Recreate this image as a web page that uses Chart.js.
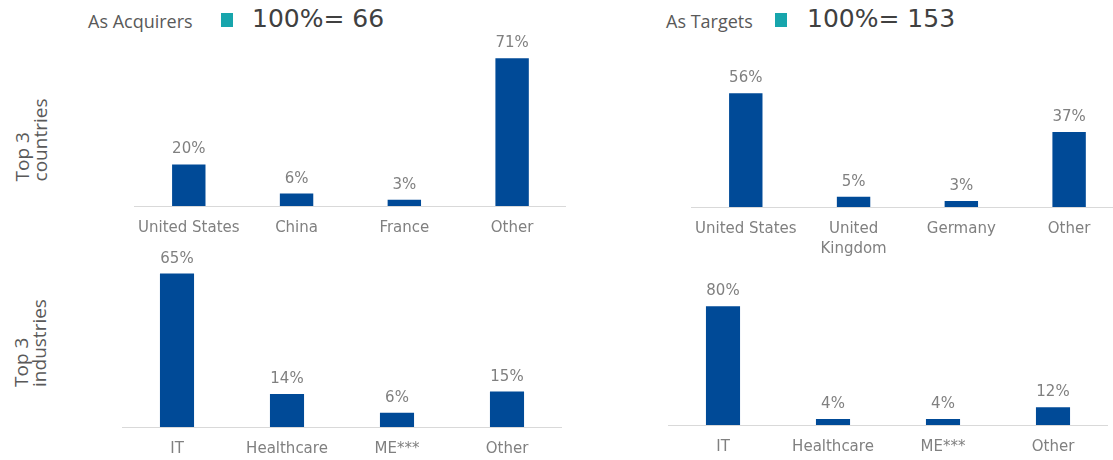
<!DOCTYPE html>
<html>
<head>
<meta charset="utf-8">
<script src="https://cdn.jsdelivr.net/npm/chart.js@4.4.1/dist/chart.umd.min.js"></script>
<style>
  body { margin: 0; width: 1113px; height: 460px; overflow: hidden; background: #fff; position: relative; }
  .abs { position: absolute; white-space: nowrap; }
  .head { font-family: "Open Sans", sans-serif; font-size: 18px; line-height: 18px; color: #595959; }
  .total { font-family: "DejaVu Sans", sans-serif; font-size: 25px; line-height: 25px; color: #404040; }
  .square { width: 12px; height: 14px; background: #17a5ac; }
  .side { font-family: "Open Sans", sans-serif; font-size: 19px; line-height: 18px; color: #595959;
          transform: translate(-50%, -50%) rotate(-90deg); text-align: left; }
  canvas { position: absolute; }
</style>
</head>
<body>

<div class="abs head" style="left:88px;top:12px">As Acquirers</div>
<div class="abs square" style="left:221px;top:13px"></div>
<div class="abs total" style="left:252px;top:6px">100%= 66</div>

<div class="abs head" style="left:666px;top:12px">As Targets</div>
<div class="abs square" style="left:775px;top:13px"></div>
<div class="abs total" style="left:807px;top:6px">100%= 153</div>

<div class="abs side" style="left:31px;top:140px">Top 3<br>countries</div>
<div class="abs side" style="left:30px;top:343px">Top 3<br>industries</div>

<canvas id="acqCountries" width="440" height="230" style="left:126px;top:26px"></canvas>
<canvas id="tgtCountries" width="440" height="230" style="left:683px;top:27px"></canvas>
<canvas id="acqIndustries" width="440" height="240" style="left:122px;top:237px"></canvas>
<canvas id="tgtIndustries" width="440" height="240" style="left:668px;top:235px"></canvas>

<script>
// data
const acqCountryLabels = ["United States", "China", "France", "Other"];
const acqCountryValues = [20, 6, 3, 71];

const tgtCountryLabels = ["United States", ["United", "Kingdom"], "Germany", "Other"];
const tgtCountryValues = [56, 5, 3, 37];

const industryLabels = ["IT", "Healthcare", "ME***", "Other"];
const acqIndustryValues = [65, 14, 6, 15];
const tgtIndustryValues = [80, 4, 4, 12];

const BAR_BLUE = "#004a97";

// percent labels above each bar
const valueLabels = {
  id: "valueLabels",
  afterDatasetsDraw(chart) {
    const ctx = chart.ctx;
    const meta = chart.getDatasetMeta(0);
    const vals = chart.data.datasets[0].data;
    ctx.save();
    ctx.font = '15px "DejaVu Sans"';
    ctx.fillStyle = "#808080";
    ctx.textAlign = "center";
    ctx.textBaseline = "alphabetic";
    meta.data.forEach((bar, i) => {
      ctx.fillText(vals[i] + "%", bar.x, bar.y - 11);
    });
    ctx.restore();
  }
};

function drawBars(id, labels, values, yMax) {
  const ctx = document.getElementById(id).getContext("2d");
  return new Chart(ctx, {
    type: "bar",
    data: {
      labels: labels,
      datasets: [{
        data: values,
        backgroundColor: BAR_BLUE,
        barPercentage: 0.31,
        categoryPercentage: 1
      }]
    },
    options: {
      responsive: false,
      animation: false,
      layout: { padding: 0 },
      plugins: { legend: { display: false }, tooltip: { enabled: false } },
      scales: {
        x: {
          grid: { display: false, drawTicks: false },
          border: { display: true, color: "#d9d9d9", width: 1 },
          ticks: {
            color: "#808080",
            font: { family: "DejaVu Sans", size: 15, lineHeight: 1.35 },
            padding: 12,
            maxRotation: 0,
            autoSkip: false
          },
          afterFit(scale) { scale.height = 50; }
        },
        y: { display: false, min: 0, max: yMax }
      }
    },
    plugins: [valueLabels]
  });
}

drawBars("acqCountries", acqCountryLabels, acqCountryValues, 86.5);
drawBars("tgtCountries", tgtCountryLabels, tgtCountryValues, 88.7);
drawBars("acqIndustries", industryLabels, acqIndustryValues, 80.5);
drawBars("tgtIndustries", industryLabels, tgtIndustryValues, 128);
</script>
</body>
</html>
